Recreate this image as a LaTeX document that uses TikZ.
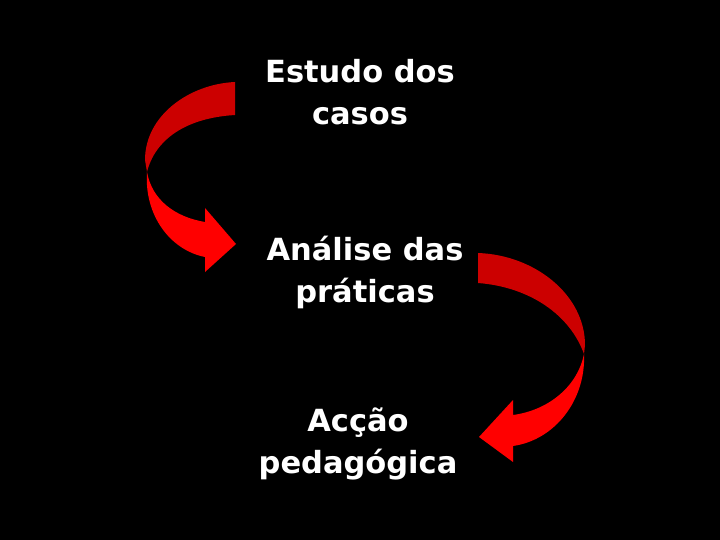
\documentclass[tikz,border=0pt]{standalone}
\usepackage{fontspec}
\setmainfont{DejaVu Sans}
\definecolor{darkred}{RGB}{204,0,0}
\definecolor{brightred}{RGB}{255,0,0}
\begin{document}
\begin{tikzpicture}[x=1pt,y=-1pt,
  label/.style={text=white,align=center,font=\bfseries\fontsize{30.5}{42}\selectfont,inner sep=0pt},
  ribbondark/.style={fill=darkred,draw=none},
  ribbonbright/.style={fill=brightred,draw=none}]
\fill[black] (0,0) rectangle (720,540);
\useasboundingbox (0,0) rectangle (720,540);
% texts
\node[label] (estudo) at (360,92) {Estudo dos\\casos};
\node[label] (analise) at (365,272) {Análise das\\práticas};
\node[label] (accao) at (358,444) {Acção\\pedagógica};
% left arrow
\coordinate (t1) at (147,172);
\fill[ribbondark] (235,82) .. controls (190,84) and (145,115) .. (145,160) -- (t1)
  .. controls (155,140) and (185,118) .. (235,115) -- cycle;
\fill[ribbonbright] (t1) .. controls (144,215) and (170,250) .. (205,257)
  -- (205,272) -- (236,244) -- (205,208) -- (205,222)
  .. controls (175,217) and (152,200) .. (t1) -- cycle;
% right arrow
\coordinate (t2) at (584,354);
\fill[ribbondark] (478,253) .. controls (535,255) and (585,295) .. (585,345) -- (t2)
  .. controls (570,315) and (530,287) .. (478,283) -- cycle;
\fill[ribbonbright] (t2) .. controls (586,400) and (555,440) .. (513,446)
  -- (513,462) -- (479,437) -- (513,400) -- (513,415)
  .. controls (550,410) and (578,385) .. (t2) -- cycle;
\end{tikzpicture}
\end{document}
